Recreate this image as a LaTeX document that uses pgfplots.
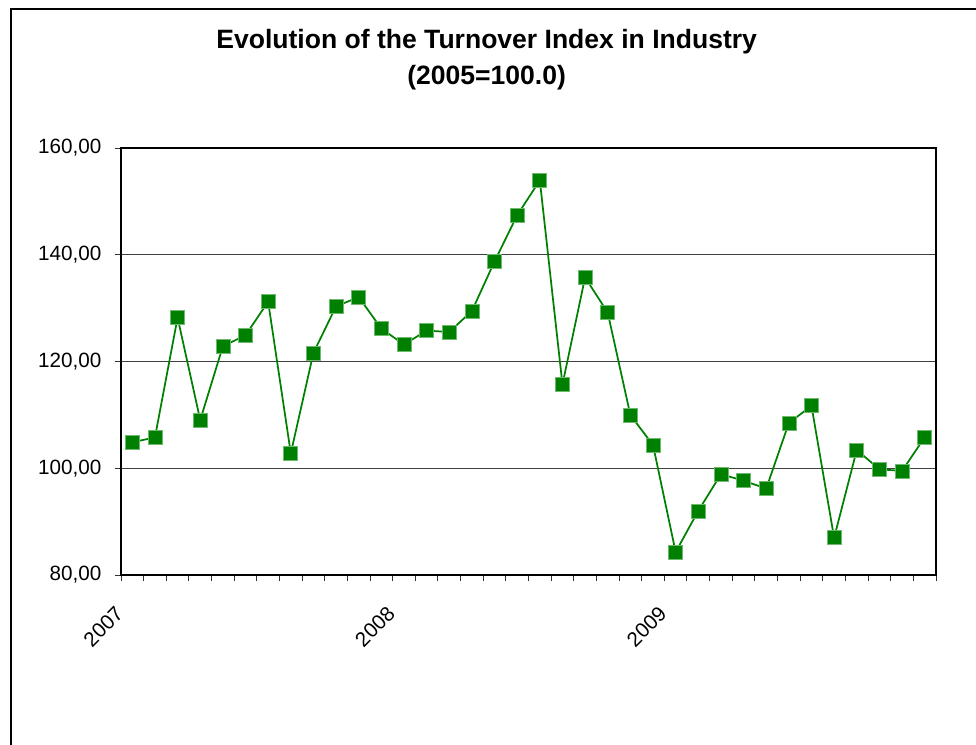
\documentclass[border=0pt]{standalone}
\usepackage{pgfplots}
\pgfplotsset{compat=1.18}
\usepackage{fontspec}
\setmainfont{Liberation Sans}
\definecolor{linegreen}{RGB}{0,128,0}
\definecolor{markedge}{RGB}{110,185,110}

\begin{document}
\begin{tikzpicture}
\useasboundingbox (0,0) rectangle (732pt,-558pt);
% chart frame (right edge lies outside the picture)
\draw[black, line width=1.2pt] (8.25pt,-580pt) -- (8.25pt,-6.75pt) -- (740pt,-6.75pt);
% title
\node[font=\bfseries\fontsize{19.9}{23}\selectfont, anchor=base] at (365pt,-36pt) {Evolution of the Turnover Index in Industry};
\node[font=\bfseries\fontsize{19.9}{23}\selectfont, anchor=base] at (365pt,-63pt) {(2005=100.0)};

\begin{axis}[
    at={(90.75pt,-431.25pt)}, anchor=south west,
    scale only axis,
    width=611.25pt, height=320.25pt,
    xmin=0.5, xmax=36.5,
    ymin=80, ymax=160,
    ytick={80,100,120,140,160},
    ymajorgrids,
    grid style={black!75, line width=0.75pt},
    xtick={0.5,12.5,24.5},
    xticklabels={2007,2008,2009},
    minor xtick={1.5,2.5,...,36.5},
    xtick pos=bottom, ytick pos=left,
    tick align=outside,
    major tick length=4.5pt, minor tick length=4.5pt,
    tick style={black!80, line width=0.75pt},
    axis line style={black, line width=1.5pt},
    tick label style={font=\fontsize{15.5}{18}\selectfont},
    /pgf/number format/fixed,
    /pgf/number format/fixed zerofill,
    /pgf/number format/precision=2,
    /pgf/number format/use comma,
    /pgf/number format/assume math mode=true,
    yticklabel style={inner sep=0pt},
    yticklabel shift=10pt,
    xticklabel style={xshift=-5pt, rotate=45, anchor=north east, inner sep=0pt},
    xticklabel shift=18pt,
]
\addplot[linegreen, line width=1.3pt, mark=square*, mark size=5.25pt,
    mark options={fill=linegreen, draw=markedge, line width=0.5pt}] coordinates {
    (1,104.86) (2,105.79) (3,128.22) (4,109.03) (5,122.86) (6,124.92)
    (7,131.21) (8,102.80) (9,121.61) (10,130.34) (11,132.07) (12,126.17)
    (13,123.18) (14,125.79) (15,125.53) (16,129.46) (17,138.75) (18,147.40)
    (19,153.94) (20,115.70) (21,135.76) (22,129.16) (23,109.96) (24,104.36)
    (25,84.30) (26,92.02) (27,98.88) (28,97.68) (29,96.19) (30,108.47)
    (31,111.70) (32,86.97) (33,103.42) (34,99.81) (35,99.50) (36,105.79)
};
\end{axis}
\end{tikzpicture}
\end{document}
